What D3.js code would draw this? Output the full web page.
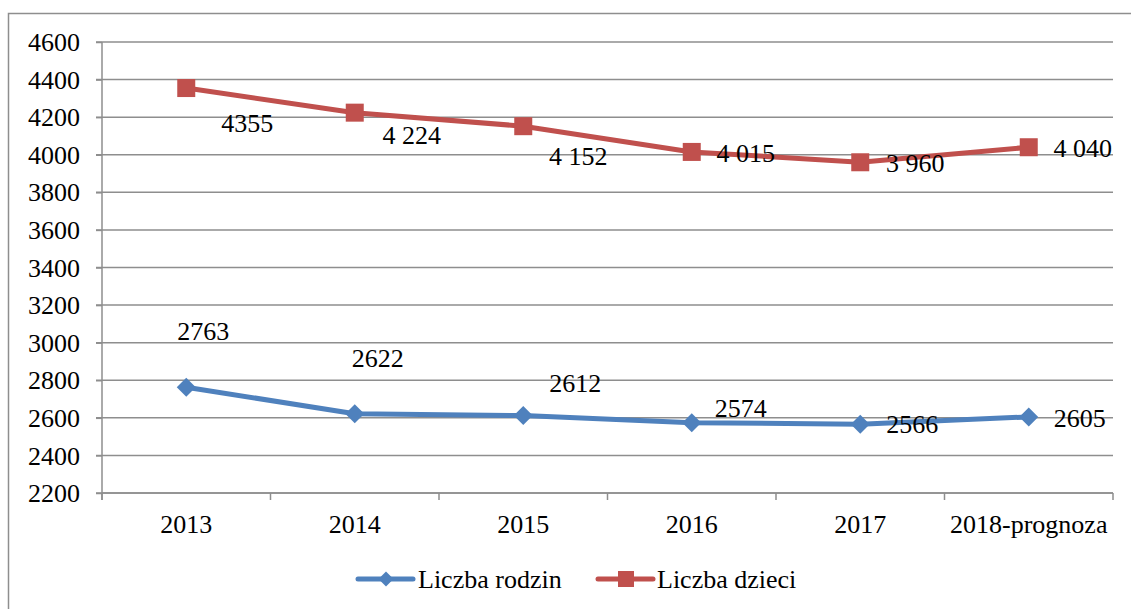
<!DOCTYPE html>
<html>
<head>
<meta charset="utf-8">
<script src="https://cdn.jsdelivr.net/npm/d3@7/dist/d3.min.js"></script>
<style>
  html, body { margin: 0; padding: 0; background: #fff; }
  svg { display: block; }
  svg text { font-family: "Liberation Serif", "DejaVu Serif", serif; fill: #000; }
</style>
</head>
<body>
<svg id="chart" width="1131" height="609"></svg>
<script>
// ---- data ----
const categories = ["2013", "2014", "2015", "2016", "2017", "2018-prognoza"];
const rodzinValues = [2763, 2622, 2612, 2574, 2566, 2605];
const dzieciValues = [4355, 4224, 4152, 4015, 3960, 4040];
const rodzinLabels = ["2763", "2622", "2612", "2574", "2566", "2605"];
const dzieciLabels = ["4355", "4 224", "4 152", "4 015", "3 960", "4 040"];
const yTicks = [2200, 2400, 2600, 2800, 3000, 3200, 3400, 3600, 3800, 4000, 4200, 4400, 4600];
const seriesNames = ["Liczba rodzin", "Liczba dzieci"];

// ---- layout (label offsets relative to points, as placed in the original) ----
const rodzinLabelOffsets = [[17, -47], [23, -47], [52, -24], [49, -6], [52, 9], [51, 10]];
const dzieciLabelOffsets = [[61, 44], [57, 31], [55, 39], [54, 10], [55, 10], [54, 10]];

const FONT = "'Liberation Serif', 'DejaVu Serif', serif";
const FS = 26;
const svg = d3.select("#chart");
const W = 1131, H = 609;
const plot = { left: 102, right: 1113, top: 42, bottom: 493 };
const gridColor = "#8e8e8e";
const blue = "#4F81BD", red = "#C0504D";

// outer border
svg.append("rect")
  .attr("x", 8.5).attr("y", 13.5)
  .attr("width", W + 10).attr("height", H + 10)
  .attr("fill", "none").attr("stroke", gridColor).attr("stroke-width", 1.5);

const x = d3.scaleBand().domain(categories).range([plot.left, plot.right]).padding(0);
const y = d3.scaleLinear().domain([2200, 4600]).range([plot.bottom, plot.top]);
const cx = c => x(c) + x.bandwidth() / 2;

// gridlines
svg.append("g").selectAll("line").data(yTicks).join("line")
  .attr("x1", plot.left - 6).attr("x2", plot.right)
  .attr("y1", d => y(d)).attr("y2", d => y(d))
  .attr("stroke", gridColor).attr("stroke-width", 1.5);

// y axis
const yAxis = d3.axisLeft(y).tickValues(yTicks).tickSize(6).tickPadding(16).tickFormat(d3.format("d"));
const gy = svg.append("g").attr("transform", `translate(${plot.left},0)`).call(yAxis)
  .attr("font-family", FONT).attr("font-size", FS);
gy.select(".domain").attr("stroke", gridColor).attr("stroke-width", 1.5)
  .attr("d", `M0,${plot.top}V${plot.bottom + 7}`);
gy.selectAll(".tick line").attr("stroke", gridColor).attr("stroke-width", 1.5);
gy.selectAll(".tick text").attr("fill", "#000").attr("dy", "0.33em");

// x axis
const xAxis = d3.axisBottom(x).tickSize(0).tickPadding(0);
const gx = svg.append("g").attr("transform", `translate(0,${plot.bottom})`).call(xAxis)
  .attr("font-family", FONT).attr("font-size", FS);
gx.select(".domain").remove();
gx.selectAll(".tick text").attr("fill", "#000").attr("dy", null).attr("y", 40);
// x axis line and boundary ticks
svg.append("line").attr("x1", plot.left).attr("x2", plot.right)
  .attr("y1", plot.bottom).attr("y2", plot.bottom)
  .attr("stroke", gridColor).attr("stroke-width", 1.5);
const bounds = categories.map(c => x(c)).concat([plot.right]);
svg.append("g").selectAll("line").data(bounds).join("line")
  .attr("x1", d => d).attr("x2", d => d)
  .attr("y1", plot.bottom).attr("y2", plot.bottom + 7)
  .attr("stroke", gridColor).attr("stroke-width", 1.5);

// lines
const line = d3.line().x(d => cx(d.c)).y(d => y(d.v));
const rodzin = categories.map((c, i) => ({ c, v: rodzinValues[i], label: rodzinLabels[i], off: rodzinLabelOffsets[i] }));
const dzieci = categories.map((c, i) => ({ c, v: dzieciValues[i], label: dzieciLabels[i], off: dzieciLabelOffsets[i] }));

svg.append("path").datum(rodzin).attr("d", line)
  .attr("fill", "none").attr("stroke", blue).attr("stroke-width", 5).attr("stroke-linejoin", "round");
svg.append("path").datum(dzieci).attr("d", line)
  .attr("fill", "none").attr("stroke", red).attr("stroke-width", 5).attr("stroke-linejoin", "round");

const diamond = s => `M0,${-s}L${s},0L0,${s}L${-s},0Z`;
svg.append("g").selectAll("path").data(rodzin).join("path")
  .attr("d", diamond(9.5))
  .attr("transform", d => `translate(${cx(d.c)},${y(d.v)})`)
  .attr("fill", blue);
svg.append("g").selectAll("rect").data(dzieci).join("rect")
  .attr("x", d => cx(d.c) - 9).attr("y", d => y(d.v) - 9)
  .attr("width", 18).attr("height", 18)
  .attr("fill", red);

// data labels
function labels(data) {
  svg.append("g").attr("font-family", FONT).attr("font-size", FS)
    .selectAll("text").data(data).join("text")
    .attr("x", d => cx(d.c) + d.off[0])
    .attr("y", d => y(d.v) + d.off[1])
    .attr("text-anchor", "middle")
    .text(d => d.label);
}
labels(rodzin);
labels(dzieci);

// legend
const leg = svg.append("g").attr("transform", "translate(0,579)")
  .attr("font-family", FONT).attr("font-size", FS);
leg.append("line").attr("x1", 358).attr("x2", 413).attr("y1", 0).attr("y2", 0)
  .attr("stroke", blue).attr("stroke-width", 5).attr("stroke-linecap", "round");
leg.append("path").attr("d", diamond(7.5)).attr("transform", "translate(386,0)").attr("fill", blue);
leg.append("text").attr("x", 418).attr("y", 9).text(seriesNames[0]);
leg.append("line").attr("x1", 598).attr("x2", 653).attr("y1", 0).attr("y2", 0)
  .attr("stroke", red).attr("stroke-width", 5).attr("stroke-linecap", "round");
leg.append("rect").attr("x", 618).attr("y", -8).attr("width", 16).attr("height", 16).attr("fill", red);
leg.append("text").attr("x", 657).attr("y", 9).text(seriesNames[1]);
</script>
</body>
</html>
